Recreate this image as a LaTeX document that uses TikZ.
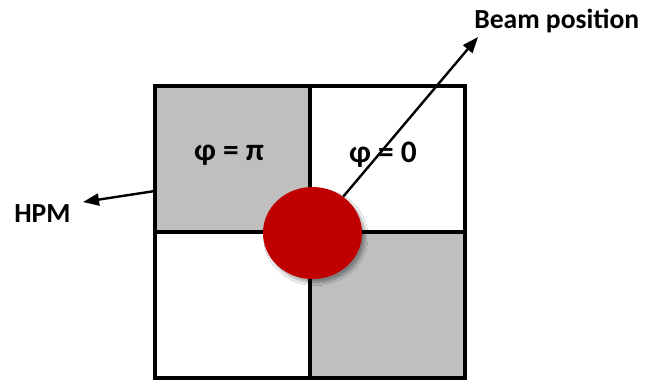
\documentclass[tikz,border=0pt]{standalone}
\usepackage{fontspec}
\setmainfont{Carlito}
\usetikzlibrary{arrows.meta,shapes.geometric,shadows.blur}
\definecolor{quadgray}{RGB}{191,191,191}
\definecolor{beamred}{RGB}{192,0,0}
\begin{document}
\begin{tikzpicture}[x=0.75pt,y=-0.75pt,
  quad/.style={draw=black,line width=2.3pt,minimum width=116.25pt,minimum height=109.5pt,inner sep=0pt,outer sep=0pt},
  lbl/.style={font=\bfseries\fontsize{20.7}{24}\selectfont,inner sep=0pt},
  phase/.style={font=\bfseries\fontsize{23.5}{28}\selectfont,inner sep=0pt},
  arr/.style={line width=1.8pt,-{Triangle[length=12pt,width=9pt]}}]
\useasboundingbox (0,0) rectangle (652,381);
\node[quad,fill=quadgray] (q1) at (232.5,159) {};
\node[quad,fill=white] (q2) at (387.5,159) {};
\node[quad,fill=white] (q3) at (232.5,305) {};
\node[quad,fill=quadgray] (q4) at (387.5,305) {};
\node[phase] (pp) at (229,155) {φ = π};
\node[phase] (p0) at (383,155) {φ = 0};
\node[lbl,anchor=west] (beam) at (474,21) {Beam position};
\node[lbl,anchor=west] (hpm) at (14,214) {HPM};
\coordinate (btip) at (478,37);
\coordinate (htip) at (83,202);
\coordinate (hs) at (155,191);
\node[ellipse,fill=beamred,minimum width=74.25pt,minimum height=69pt,inner sep=0pt,
  blur shadow={shadow xshift=2.5pt,shadow yshift=-3pt,shadow blur steps=10,shadow blur radius=2pt,shadow opacity=35}] (beamspot) at (312.5,233) {};
\draw[arr] (beamspot) -- (btip);
\draw[arr] (hs) -- (htip);
\end{tikzpicture}
\end{document}
